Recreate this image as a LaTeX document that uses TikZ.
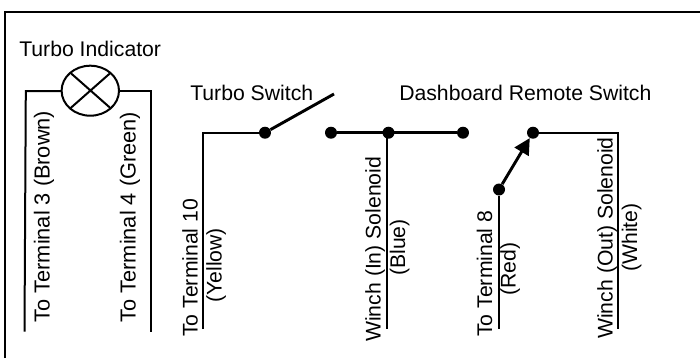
\documentclass[tikz,border=0pt]{standalone}
\usepackage{fontspec}
\setmainfont{Liberation Sans}
\usetikzlibrary{arrows.meta}
\tikzset{
  wire/.style={line width=2.2pt,line cap=butt,line join=miter},
  thinwire/.style={line width=1.5pt,line join=miter},
  dotn/.style={circle,fill=black,inner sep=0pt,minimum size=9pt},
  lab/.style={font=\fontsize{15.9pt}{17pt}\selectfont,inner sep=0pt,text=black},
  hlab/.style={lab,anchor=base west},
  vlab/.style={lab,rotate=90,anchor=base west},
  vlabwide/.style={vlab,font=\fontsize{16.3pt}{17pt}\selectfont}
}
\begin{document}
\begin{tikzpicture}[x=0.75pt,y=-0.75pt]
\useasboundingbox (0,0) rectangle (700,358);
\draw[line width=1.5pt] (5.2,358) -- (5.2,11.8) -- (700,11.8);
% lamp
\node[hlab] (ti) at (19,56) {Turbo Indicator};
\coordinate (lc) at (90.3,90.7);
\draw[thinwire] (lc) ellipse (28.7 and 25);
\coordinate (lL) at (61.6,91);
\coordinate (lR) at (119,91);
\draw[thinwire] (70.3,72.7) -- (110.7,108.3) (110.7,72.7) -- (70.3,108.3);
\coordinate (a1) at (24.5,331.5);
\coordinate (a2) at (151,331.5);
\draw[thinwire] (lL) -- (25.8,91) -- (a1);
\draw[thinwire] (lR) -- (151,91) -- (a2);
\node[vlabwide] (t3) at (49.5,322.5) {To Terminal 3 (Brown)};
\node[vlabwide] (t4) at (135.5,322.5) {To Terminal 4 (Green)};
% turbo switch
\node[hlab] (ts) at (190,100) {Turbo Switch};
\node[dotn] (d1) at (265,132.7) {};
\node[dotn] (d2) at (331,132.7) {};
\node[dotn] (d3) at (388.5,132.7) {};
\node[dotn] (d4) at (463,132.7) {};
\coordinate (b1) at (203,329);
\coordinate (sw) at (334,94);
\draw[thinwire] (b1) -- (203,132.7) -- (d1);
\draw[wire] (d1) -- (sw);
\draw[wire] (d2) -- (d4);
\coordinate (c1) at (387,329);
\draw[thinwire] (387,132.7) -- (c1);
\node[vlab] (t10) at (197.5,337) {To Terminal 10};
\node[vlab] (ye) at (221.5,303) {(Yellow)};
\node[vlab] (wi) at (380.5,342) {Winch (In) Solenoid};
\node[vlab] (bl) at (405,276) {(Blue)};
% remote
\node[hlab] (dr) at (399,100) {Dashboard Remote Switch};
\node[dotn] (d5) at (499,189.5) {};
\node[dotn] (d6) at (533,132.7) {};
\coordinate (e1) at (499,329);
\coordinate (f1) at (618,329);
\draw[thinwire] (d5) -- (e1);
\draw[wire,-{Triangle[length=12pt,width=12pt]}] (d5) -- (d6);
\draw[thinwire] (d6) -- (618,132.7) -- (f1);
\node[vlab] (t8) at (492,337) {To Terminal 8};
\node[vlab] (re) at (515.5,296) {(Red)};
\node[vlab] (wo) at (612.5,339) {Winch (Out) Solenoid};
\node[vlab] (wh) at (637,272) {(White)};
\end{tikzpicture}
\end{document}
